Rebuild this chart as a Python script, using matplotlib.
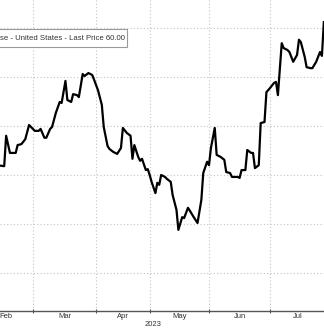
import matplotlib
matplotlib.use("Agg")
import matplotlib.pyplot as plt
from matplotlib.patches import Rectangle
import pandas as pd

plt.rcParams["font.family"] = "Liberation Sans"

# values
dates = [
    "2023-02-10", "2023-02-14", "2023-02-15", "2023-02-17", "2023-02-20", "2023-02-21",
    "2023-02-23", "2023-02-25", "2023-02-27", "2023-03-02", "2023-03-04", "2023-03-05",
    "2023-03-07", "2023-03-08", "2023-03-10", "2023-03-11", "2023-03-13", "2023-03-15",
    "2023-03-16", "2023-03-18", "2023-03-19", "2023-03-21", "2023-03-22", "2023-03-24",
    "2023-03-25", "2023-03-27", "2023-03-28", "2023-03-30", "2023-04-01", "2023-04-02",
    "2023-04-04", "2023-04-06", "2023-04-07", "2023-04-09", "2023-04-10", "2023-04-12",
    "2023-04-14", "2023-04-16", "2023-04-17", "2023-04-19", "2023-04-21", "2023-04-22",
    "2023-04-23", "2023-04-25", "2023-04-26", "2023-04-27", "2023-04-29", "2023-04-30",
    "2023-05-01", "2023-05-02", "2023-05-04", "2023-05-05", "2023-05-06", "2023-05-07",
    "2023-05-09", "2023-05-10", "2023-05-12", "2023-05-13", "2023-05-15", "2023-05-16",
    "2023-05-18", "2023-05-19", "2023-05-21", "2023-05-22", "2023-05-24", "2023-05-25",
    "2023-05-26", "2023-05-28", "2023-05-29", "2023-05-31", "2023-06-01", "2023-06-02",
    "2023-06-04", "2023-06-05", "2023-06-07", "2023-06-09", "2023-06-10", "2023-06-12",
    "2023-06-13", "2023-06-15", "2023-06-16", "2023-06-17", "2023-06-18", "2023-06-20",
    "2023-06-21", "2023-06-23", "2023-06-24", "2023-06-25", "2023-06-27", "2023-06-28",
    "2023-06-30", "2023-07-01", "2023-07-03", "2023-07-05", "2023-07-06", "2023-07-07",
    "2023-07-09", "2023-07-10", "2023-07-12", "2023-07-13", "2023-07-15", "2023-07-17",
    "2023-07-18", "2023-07-19", "2023-07-21", "2023-07-22", "2023-07-24", "2023-07-25",
    "2023-07-27", "2023-07-29", "2023-07-30", "2023-07-31",
]
values = [
    32.0, 31.8, 38.0, 34.5, 34.5, 36.1,
    36.3, 37.3, 40.2, 39.0, 39.0, 39.4,
    37.6, 37.6, 39.4, 39.8, 42.7, 44.9,
    44.7, 49.2, 45.3, 44.9, 46.5, 46.3,
    45.9, 50.6, 50.2, 50.8, 50.4, 49.4,
    47.3, 44.3, 39.8, 35.9, 35.3, 34.7,
    34.3, 35.5, 39.6, 38.6, 38.0, 33.3,
    36.1, 33.7, 32.9, 33.3, 31.0, 31.2,
    30.0, 28.6, 26.3, 28.4, 28.0, 30.0,
    29.6, 29.2, 28.6, 25.9, 22.9, 18.8,
    21.4, 21.2, 23.3, 22.7, 21.4, 20.8,
    20.2, 24.9, 30.4, 32.7, 32.0, 35.5,
    39.6, 34.1, 33.7, 33.1, 30.6, 30.4,
    29.6, 29.6, 29.6, 29.4, 31.0, 31.0,
    35.1, 34.5, 34.5, 31.4, 32.0, 40.6,
    40.8, 46.9, 47.8, 48.8, 49.0, 46.3,
    56.9, 55.9, 55.5, 55.1, 53.1, 54.5,
    57.6, 57.1, 54.1, 52.0, 51.8, 51.8,
    53.1, 55.1, 54.3, 61.2,
]

monthEdges = ["2023-02-01", "2023-03-01", "2023-04-03", "2023-05-01",
              "2023-06-01", "2023-07-03", "2023-08-01"]
monthLabels = ["Feb", "Mar", "Apr", "May", "Jun", "Jul"]
gridValues = [10, 20, 30, 40, 50, 60]
legendText = "se - United States - Last Price 60.00"
yearLabel = "2023"

x = pd.to_datetime(dates)
edges = pd.to_datetime(monthEdges)
mids = [edges[i] + (edges[i + 1] - edges[i]) / 2 for i in range(len(monthLabels))]

fig = plt.figure(figsize=(3.24, 3.29), dpi=100)
ax = fig.add_axes([0, 18 / 329, 1, 311 / 329])

ax.plot(x, values, color="black", linewidth=1.6, solid_joinstyle="round", zorder=3)

ax.set_xlim(pd.Timestamp("2023-03-01") - pd.Timedelta(days=17.2),
            pd.Timestamp("2023-07-31") + pd.Timedelta(hours=2))
ax.set_ylim(2.24, 65.71)

ax.set_yticks(gridValues)
ax.set_xticks(edges[1:-1])
ax.set_xticklabels([])
ax.set_xticks(mids, minor=True)
ax.set_xticklabels(monthLabels, minor=True)

ax.grid(True, which="major", color="#c4c4c4", linestyle=(0, (1, 2)), linewidth=0.8)
ax.tick_params(axis="y", left=False, labelleft=False)
ax.tick_params(axis="x", which="major", direction="inout", length=3, width=0.8, color="#555555")
ax.tick_params(axis="x", which="minor", length=0, pad=1.5, labelsize=5.5, labelcolor="#333333")

for side in ["top", "left", "right"]:
    ax.spines[side].set_visible(False)
ax.spines["bottom"].set_color("#555555")
ax.spines["bottom"].set_linewidth(1)

fig.text(153.5 / 324, 1 - 325 / 329, yearLabel, ha="center", va="center",
         fontsize=5.5, color="#333333")

# legend box, cut off on the left like the original
ax.add_patch(Rectangle((-0.05, 1 - 47 / 311), 0.05 + 127 / 324, 18 / 311,
                       transform=ax.transAxes, facecolor="white", edgecolor="#9a9a9a",
                       linewidth=0.8, zorder=5, clip_on=False))
ax.text(124.5 / 324, 1 - 38 / 311, legendText, transform=ax.transAxes,
        ha="right", va="center", fontsize=5.6, color="#333333", zorder=6)

fig.savefig("out.png", dpi=100)
